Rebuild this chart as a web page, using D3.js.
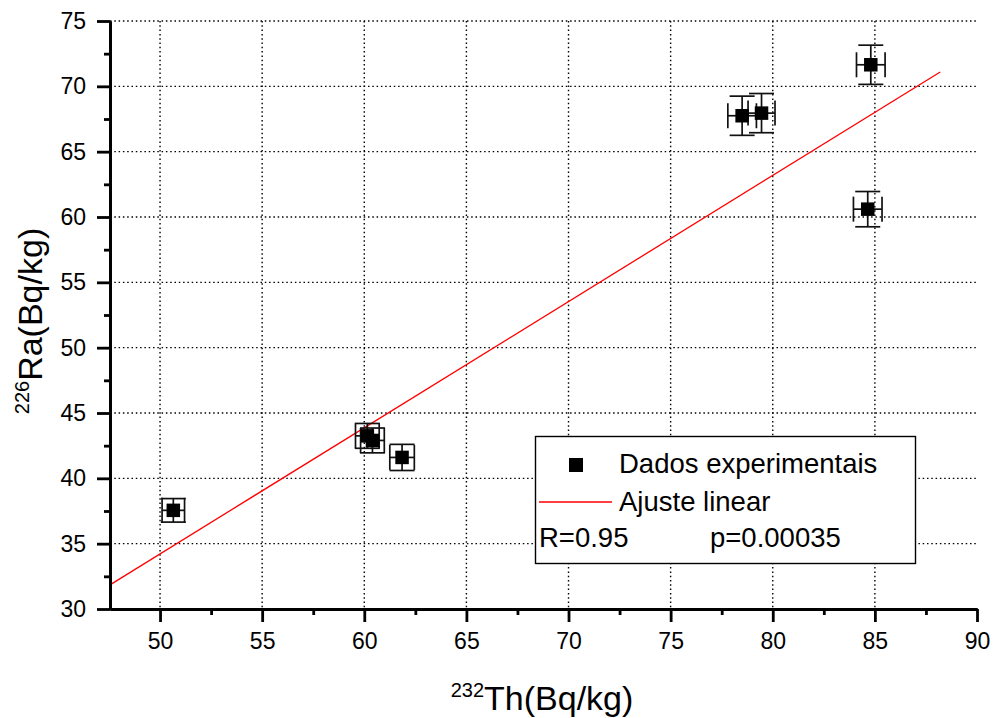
<!DOCTYPE html>
<html>
<head>
<meta charset="utf-8">
<script src="https://cdn.jsdelivr.net/npm/d3@7"></script>
<style>
  body { margin: 0; background: #fff; }
  svg { display: block; font-family: "Liberation Sans", Arial, sans-serif; }
</style>
</head>
<body>
<svg width="995" height="718"></svg>
<script>
// data
const thValues = [50.65, 60.15, 60.4, 61.85, 78.5, 79.45, 84.8, 84.65];
const raValues = [37.55, 43.25, 42.9, 41.6, 67.75, 67.95, 71.65, 60.6];
const thErrors = [0.55, 0.58, 0.58, 0.6, 0.7, 0.66, 0.7, 0.7];
const raErrors = [0.9, 0.95, 0.95, 1.0, 1.5, 1.5, 1.5, 1.35];

// linear fit, drawn between its two ends
const fitTh = [47.55, 88.2];
const fitRa = [31.85, 71.1];

const xTicks = [50, 55, 60, 65, 70, 75, 80, 85, 90];
const xMinor = [52.5, 57.5, 62.5, 67.5, 72.5, 77.5, 82.5, 87.5];
const yTicks = [30, 35, 40, 45, 50, 55, 60, 65, 70, 75];
const yMinor = [32.5, 37.5, 42.5, 47.5, 52.5, 57.5, 62.5, 67.5, 72.5];

const points = thValues.map((d, i) => ({x: d, y: raValues[i], ex: thErrors[i], ey: raErrors[i]}));
const fit = fitTh.map((d, i) => ({x: d, y: fitRa[i]}));

const plot = {left: 110, right: 977, top: 21, bottom: 609};

const svg = d3.select('svg');

const xScale = d3.scaleLinear().domain([47.55, 90]).range([plot.left, plot.right]);
const yScale = d3.scaleLinear().domain([30, 75]).range([plot.bottom, plot.top]);

// dotted grid
const grid = svg.append('g')
    .attr('stroke', '#000')
    .attr('stroke-width', 1.4)
    .attr('stroke-dasharray', '1.5,2.8');

grid.selectAll('.vgrid')
    .data(xTicks.filter(d => d < 90))
    .join('line')
    .attr('class', 'vgrid')
    .attr('x1', d => xScale(d)).attr('x2', d => xScale(d))
    .attr('y1', plot.top).attr('y2', plot.bottom);

grid.selectAll('.hgrid')
    .data(yTicks.filter(d => d > 30))
    .join('line')
    .attr('class', 'hgrid')
    .attr('x1', plot.left).attr('x2', plot.right)
    .attr('y1', d => yScale(d)).attr('y2', d => yScale(d));

// fit line
const line = d3.line()
    .x(d => xScale(d.x))
    .y(d => yScale(d.y));

svg.append('path')
    .datum(fit)
    .attr('fill', 'none')
    .attr('stroke', '#ff0000')
    .attr('stroke-width', 1.3)
    .attr('d', line);

// error bars
const cap = 12.5;
const bars = svg.append('g')
    .attr('stroke', '#111')
    .attr('stroke-width', 1.7)
    .attr('fill', 'none');

points.forEach(p => {
    const cx = xScale(p.x), cy = yScale(p.y);
    const x0 = xScale(p.x - p.ex), x1 = xScale(p.x + p.ex);
    const y0 = yScale(p.y - p.ey), y1 = yScale(p.y + p.ey);
    const g = bars.append('g');
    g.append('line').attr('x1', cx).attr('x2', cx).attr('y1', y0).attr('y2', y1);
    g.append('line').attr('x1', cx - cap).attr('x2', cx + cap).attr('y1', y0).attr('y2', y0);
    g.append('line').attr('x1', cx - cap).attr('x2', cx + cap).attr('y1', y1).attr('y2', y1);
    g.append('line').attr('x1', x0).attr('x2', x1).attr('y1', cy).attr('y2', cy);
    g.append('line').attr('x1', x0).attr('x2', x0).attr('y1', cy - cap).attr('y2', cy + cap);
    g.append('line').attr('x1', x1).attr('x2', x1).attr('y1', cy - cap).attr('y2', cy + cap);
});

// square markers
const size = 13.5;
svg.append('g')
    .selectAll('rect')
    .data(points)
    .join('rect')
    .attr('x', d => xScale(d.x) - size / 2)
    .attr('y', d => yScale(d.y) - size / 2)
    .attr('width', size)
    .attr('height', size)
    .attr('fill', '#000');

// axes
function styleAxis(g) {
    g.select('.domain').attr('stroke-width', 2.8);
    g.selectAll('.tick line').attr('stroke-width', 2.8);
    g.selectAll('.tick text').attr('font-size', 23).attr('fill', '#000')
        .attr('font-family', '"Liberation Sans", Arial, sans-serif');
}

svg.append('g')
    .attr('transform', `translate(0, ${plot.bottom})`)
    .call(d3.axisBottom(xScale).tickValues(xMinor).tickSize(6).tickSizeOuter(0).tickFormat(''))
    .call(styleAxis);

svg.append('g')
    .attr('transform', `translate(0, ${plot.bottom})`)
    .call(d3.axisBottom(xScale).tickValues(xTicks).tickSize(13).tickSizeOuter(0).tickPadding(11))
    .call(styleAxis);

svg.append('g')
    .attr('transform', `translate(${plot.left}, 0)`)
    .call(d3.axisLeft(yScale).tickValues(yMinor).tickSize(6).tickSizeOuter(0).tickFormat(''))
    .call(styleAxis);

svg.append('g')
    .attr('transform', `translate(${plot.left}, 0)`)
    .call(d3.axisLeft(yScale).tickValues(yTicks).tickSize(13).tickSizeOuter(0).tickPadding(11))
    .call(styleAxis);

// axis titles
const xTitle = svg.append('text')
    .attr('x', 542)
    .attr('y', 710)
    .attr('text-anchor', 'middle')
    .attr('font-size', 34);
xTitle.append('tspan').attr('font-size', 20).attr('dy', -13).text('232');
xTitle.append('tspan').attr('dy', 13).text('Th(Bq/kg)');

const yTitle = svg.append('text')
    .attr('transform', 'translate(42, 321) rotate(-90)')
    .attr('text-anchor', 'middle')
    .attr('font-size', 34);
yTitle.append('tspan').attr('font-size', 20).attr('dy', -13).text('226');
yTitle.append('tspan').attr('dy', 13).text('Ra(Bq/kg)');

// legend
const legend = svg.append('g');
legend.append('rect')
    .attr('x', 535.5).attr('y', 436.5)
    .attr('width', 380).attr('height', 127)
    .attr('fill', '#fff')
    .attr('stroke', '#000')
    .attr('stroke-width', 1.4);
legend.append('rect')
    .attr('x', 569).attr('y', 458)
    .attr('width', 14).attr('height', 14)
    .attr('fill', '#000');
legend.append('line')
    .attr('x1', 539).attr('x2', 612)
    .attr('y1', 502).attr('y2', 502)
    .attr('stroke', '#ff0000')
    .attr('stroke-width', 1.3);
legend.append('text').attr('x', 619).attr('y', 473).attr('font-size', 27.5).text('Dados experimentais');
legend.append('text').attr('x', 619).attr('y', 511).attr('font-size', 27.5).text('Ajuste linear');
legend.append('text').attr('x', 539).attr('y', 547).attr('font-size', 27.5).text('R=0.95');
legend.append('text').attr('x', 710).attr('y', 547).attr('font-size', 27.5).text('p=0.00035');
</script>
</body>
</html>
